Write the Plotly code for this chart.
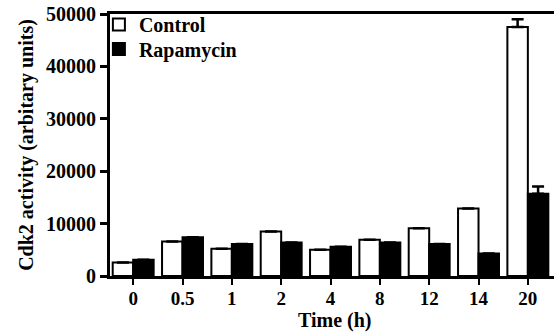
import plotly.graph_objects as go

time_labels = ["0", "0.5", "1", "2", "4", "8", "12", "14", "20"]
control = [2600, 6600, 5200, 8500, 5000, 6900, 9100, 12900, 47500]
rapamycin = [3100, 7400, 6100, 6400, 5600, 6400, 6100, 4300, 15700]
control_err = [0, 0, 0, 0, 0, 0, 0, 0, 1500]
rapamycin_err = [0, 0, 0, 0, 0, 0, 0, 0, 1400]
y_ticks = [0, 10000, 20000, 30000, 40000, 50000]

FONT = dict(family="Liberation Serif", size=20, color="black", weight="bold")
XTICK_FONT = dict(FONT, size=19)

def err(vals):
    return dict(type="data", array=vals, arrayminus=[0] * len(vals), symmetric=False,
                visible=True, color="black", thickness=2.5, width=6)

fig = go.Figure()
fig.add_trace(go.Bar(x=time_labels, y=control, name="Control", legend="legend",
                     marker=dict(color="white", line=dict(color="black", width=2)),
                     error_y=err(control_err)))
fig.add_trace(go.Bar(x=time_labels, y=rapamycin, name="Rapamycin", legend="legend2",
                     marker=dict(color="black", line=dict(color="black", width=2)),
                     error_y=err(rapamycin_err)))

leg = dict(xanchor="left", yanchor="top", bgcolor="rgba(0,0,0,0)", font=FONT,
           itemwidth=30, borderwidth=0)

fig.update_layout(
    width=554, height=333,
    margin=dict(l=110, r=0, t=14, b=57, pad=0),
    paper_bgcolor="white", plot_bgcolor="white",
    barmode="group", bargap=0.17, bargroupgap=0,
    font=FONT,
    showlegend=True,
    legend=dict(x=-0.025, y=1.034, **leg),
    legend2=dict(x=-0.025, y=0.941, **leg),
    xaxis=dict(type="category", range=[-0.47, 8.53], showline=True, linewidth=3,
               linecolor="black", mirror=True, ticks="outside", ticklen=6,
               tickwidth=2, tickcolor="black", showgrid=False, zeroline=False,
               automargin=False, tickfont=XTICK_FONT, ticklabelstandoff=-3),
    yaxis=dict(range=[0, 50000], tickvals=y_ticks, tickformat="d", showline=True,
               linewidth=3, linecolor="black", mirror=False, ticks="outside",
               ticklen=7, tickwidth=2.5, tickcolor="black", showgrid=False,
               zeroline=False, tickfont=FONT, automargin=False,
               title=dict(text="Cdk2 activity (arbitary units)", font=FONT, standoff=8)),
    annotations=[dict(text="Time (h)", xref="paper", yref="paper", x=0.507, y=-0.17,
                      xanchor="center", yanchor="middle", showarrow=False, font=FONT)],
)

fig.write_html("out.html", config={"displayModeBar": False},
               post_script="document.body.style.margin='0';document.body.style.padding='0';")
